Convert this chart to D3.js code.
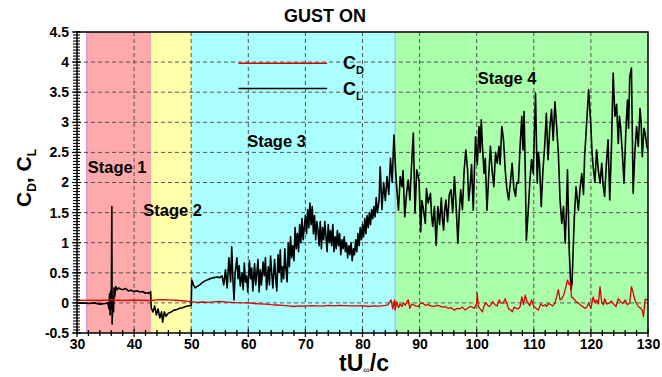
<!DOCTYPE html>
<html><head><meta charset="utf-8">
<script src="https://cdn.jsdelivr.net/npm/d3@7"></script>
<style>body{margin:0;background:#fff}svg{display:block;font-family:"Liberation Sans",Arial,sans-serif}</style>
</head><body><svg id="c" width="662" height="377"></svg>
<script>
// ---------- data ----------
const stages = [
  {name:"Stage 1", x0:31.7, x1:43,   color:"#ffaaaa", lx:31.9,  ly:2.26},
  {name:"Stage 2", x0:43,   x1:50,   color:"#ffffaa", lx:41.6,  ly:1.54},
  {name:"Stage 3", x0:50,   x1:85.7, color:"#aaffff", lx:59.8,  ly:2.69},
  {name:"Stage 4", x0:85.7, x1:130,  color:"#aaffaa", lx:100.2, ly:3.74}
];
const xTicks = [30,40,50,60,70,80,90,100,110,120,130];
const yTicks = [-0.5,0,0.5,1,1.5,2,2.5,3,3.5,4,4.5];
const yTickLabels = ["-0.5","0","0.5","1","1.5","2","2.5","3","3.5","4","4.5"];

const clStage12 = [[30,-0.01],[31,0.0],[32,-0.01],[33,0.0],[34,-0.02],[35,-0.01],[35.4,0.0],[35.6,-0.1],[35.7,0.15],[35.8,-0.2],[35.9,0.2],[36.0,-0.1],[36.1,1.6],[36.15,-0.35],[36.3,0.1],[36.4,-0.15],[36.5,0.25],[36.6,0.1],[36.8,0.27],[37.0,0.22],[37.3,0.25],[37.6,0.23],[38.0,0.22],[38.5,0.24],[39.0,0.2],[39.5,0.21],[40.0,0.19],[40.5,0.2],[41.0,0.18],[41.5,0.19],[42.0,0.16],[42.5,0.17],[42.8,0.15],[42.9,0.19],[43.0,-0.08],[43.3,-0.15],[43.6,-0.05],[43.9,-0.2],[44.2,-0.1],[44.5,-0.25],[44.8,-0.15],[45.0,-0.32],[45.3,-0.15],[45.6,-0.22],[46.0,-0.17],[46.5,-0.15],[47.0,-0.12],[47.5,-0.11],[48.0,-0.09],[48.5,-0.08],[49.0,-0.06],[49.5,-0.05],[50.0,-0.04]];
const clStage3 = [[50.1,0.38],[50.4,0.3],[50.7,0.25],[51.0,0.27],[51.5,0.3],[52.0,0.34],[52.5,0.37],[53.0,0.39],[53.5,0.41],[54.0,0.42],[54.5,0.43],[55.0,0.42],[55.4,0.45],[55.7,0.3],[56.0,0.55],[56.3,0.25],[56.6,0.75],[56.9,0.35],[57.1,0.93],[57.3,0.4],[57.5,0.05],[57.7,0.5],[58.0,0.75],[58.2,0.4],[58.4,0.62],[58.6,0.28],[58.9,0.5],[59.1,0.22],[59.3,0.66],[59.5,0.35],[59.7,0.45],[59.9,0.18],[60.2,0.7],[60.4,0.4],[60.6,0.58],[60.8,0.2],[61.1,0.65],[61.3,0.3],[61.5,0.5],[61.7,0.72],[61.9,0.18],[62.1,0.55],[62.3,0.3],[62.6,0.68],[62.8,0.45],[63.0,0.75],[63.2,0.22],[63.5,0.6],[63.7,0.3],[63.9,0.78],[64.1,0.5],[64.3,0.25],[64.6,0.72],[64.8,0.4],[65.0,0.2],[65.2,0.8],[65.4,0.5],[65.6,0.88],[65.8,0.35],[66.0,0.6],[66.2,0.4],[66.4,0.9],[66.6,0.55],[66.8,0.35],[67.0,1.0],[67.2,0.6],[67.4,1.1],[67.6,0.75],[67.8,0.95],[68.0,0.7],[68.2,1.25],[68.4,0.9],[68.6,1.15],[68.8,0.85],[69.0,1.3],[69.2,1.0],[69.4,1.4],[69.6,1.05],[69.8,1.25],[70.0,1.45],[70.2,1.15],[70.4,1.55],[70.6,1.25],[70.8,1.66],[71.0,1.3],[71.2,1.6],[71.4,1.15],[71.6,1.45],[71.8,1.05],[72.0,1.35],[72.2,1.2],[72.4,0.95],[72.6,1.35],[72.8,0.9],[73.0,1.25],[73.2,1.05],[73.4,1.35],[73.6,1.1],[73.8,0.85],[74.0,1.3],[74.2,1.0],[74.4,1.2],[74.6,0.95],[74.8,1.3],[75.0,0.85],[75.2,1.1],[75.4,0.9],[75.6,1.2],[75.8,0.95],[76.0,1.15],[76.2,0.8],[76.4,1.05],[76.6,0.9],[76.8,1.1],[77.0,0.85],[77.2,1.0],[77.4,0.75],[77.6,0.95],[77.8,0.8],[78.0,1.0],[78.2,0.7],[78.4,0.9],[78.6,0.8],[78.8,1.05],[79.0,0.85],[79.2,1.15],[79.4,0.95],[79.6,1.25],[79.8,1.05],[80.0,1.3],[80.2,1.1],[80.4,1.4],[80.6,1.15],[80.8,1.45],[81.0,1.25],[81.2,1.5],[81.4,1.3],[81.6,1.55],[81.8,1.4],[82.0,1.6],[82.2,1.43],[82.4,1.75],[82.6,1.5],[82.9,1.7],[83.1,2.26],[83.4,1.55],[83.7,2.0],[84.0,1.7],[84.3,2.1],[84.6,1.8],[84.9,2.4],[85.2,2.0],[85.5,2.79]];
const clStage4 = [[85.8,2.2],[86.0,1.9],[86.3,1.54],[86.6,2.1],[86.9,1.93],[87.1,2.2],[87.4,1.43],[87.7,1.8],[88.0,2.04],[88.3,1.71],[88.6,2.3],[88.9,2.82],[89.2,1.49],[89.5,2.21],[89.9,2.04],[90.2,1.18],[90.4,1.7],[90.6,1.6],[91.0,1.32],[91.2,1.9],[91.5,1.66],[91.9,1.82],[92.1,1.45],[92.3,1.27],[92.6,1.6],[92.9,0.96],[93.2,1.6],[93.5,1.3],[93.8,1.74],[94.0,1.4],[94.2,1.21],[94.4,1.55],[94.6,1.71],[94.9,1.35],[95.2,1.8],[95.5,1.88],[95.8,1.5],[96.1,2.1],[96.3,1.77],[96.5,1.4],[96.7,0.99],[97.0,1.6],[97.2,1.88],[97.5,1.55],[97.8,2.2],[98.1,2.54],[98.4,2.21],[98.6,1.7],[98.9,1.99],[99.1,2.3],[99.4,1.54],[99.6,2.2],[99.8,2.76],[100.1,2.3],[100.4,2.93],[100.6,2.5],[100.8,3.04],[101.0,2.6],[101.3,2.15],[101.5,2.4],[101.8,1.54],[102.1,2.1],[102.4,2.6],[102.7,2.2],[103.0,1.93],[103.3,2.5],[103.6,2.32],[103.9,2.6],[104.1,2.3],[104.4,2.93],[104.7,2.71],[105.0,2.2],[105.3,1.88],[105.6,1.71],[105.9,2.0],[106.2,2.32],[106.5,1.9],[106.8,1.77],[107.0,2.0],[107.3,1.99],[107.6,2.6],[107.9,3.1],[108.1,2.54],[108.3,3.18],[108.5,2.2],[108.7,1.04],[109.0,1.49],[109.3,2.0],[109.6,2.38],[109.9,2.15],[110.1,2.8],[110.3,3.48],[110.6,1.99],[110.8,2.5],[111.0,2.32],[111.3,1.6],[111.6,2.2],[111.9,2.6],[112.2,3.15],[112.5,2.38],[112.8,2.9],[113.1,3.21],[113.4,2.7],[113.7,3.34],[114.0,2.93],[114.3,2.49],[114.6,1.71],[114.9,1.32],[115.2,1.6],[115.5,0.99],[115.7,1.5],[115.9,2.21],[116.2,0.88],[116.5,0.22],[116.7,0.33],[116.9,0.9],[117.1,1.43],[117.4,1.93],[117.8,1.54],[118.1,1.9],[118.4,2.15],[118.7,1.8],[118.9,2.43],[119.2,2.9],[119.6,3.54],[120.0,2.93],[120.2,2.5],[120.4,2.26],[120.7,2.0],[121.0,2.54],[121.3,2.2],[121.6,1.99],[121.9,2.32],[122.1,2.0],[122.4,1.77],[122.7,2.3],[123.0,2.71],[123.3,1.71],[123.6,2.6],[123.9,3.82],[124.2,3.1],[124.5,3.3],[124.8,2.65],[125.0,3.1],[125.2,2.93],[125.5,2.5],[125.8,1.99],[126.1,2.8],[126.4,3.37],[126.6,2.9],[126.8,3.76],[127.1,3.9],[127.4,1.82],[127.7,2.5],[128.0,2.93],[128.3,2.6],[128.6,3.23],[128.8,3.0],[129.0,2.43],[129.3,2.9],[129.5,2.82],[129.8,2.6],[130.0,2.54]];

const cdStage123 = [[30,0.04],[32,0.045],[34,0.04],[36,0.05],[38,0.04],[40,0.045],[43,0.04],[44,0.05],[45,0.055],[46,0.05],[48,0.04],[50,0.02],[51,0.01],[52,0.015],[53,0.01],[55,0.025],[56,0.015],[57,0.01],[58,0.005],[60,0.0],[61,-0.01],[62,-0.015],[63,-0.02],[64,-0.03],[65,-0.035],[66,-0.04],[67,-0.05],[68,-0.06],[69,-0.05],[70,-0.055],[71,-0.045],[72,-0.05],[73,-0.055],[74,-0.04],[75,-0.05],[76,-0.04],[77,-0.045],[78,-0.05],[79,-0.05],[80,-0.045],[81,-0.06],[82,-0.05],[83,-0.055],[84,-0.04],[84.5,-0.03],[85.0,0.05],[85.3,-0.1],[85.6,0.05]];
const cdStage4 = [[85.7,-0.12],[86.0,0.02],[86.3,-0.08],[86.6,-0.02],[86.9,-0.06],[87.2,0.0],[87.5,-0.04],[87.8,0.02],[88.0,0.05],[88.3,-0.09],[88.6,-0.02],[88.9,-0.03],[89.3,-0.05],[89.8,-0.06],[90.1,-0.01],[90.5,0.0],[91.0,-0.04],[91.5,-0.03],[92.0,-0.05],[92.5,-0.06],[93.0,-0.04],[93.5,-0.05],[94.0,-0.07],[94.5,-0.06],[95.0,-0.09],[95.5,-0.08],[96.1,-0.12],[96.6,-0.09],[97.0,-0.1],[97.5,-0.07],[98.0,-0.12],[98.5,-0.08],[99.0,-0.06],[99.6,-0.09],[100.0,0.0],[100.1,0.16],[100.3,-0.06],[100.6,-0.1],[101.0,-0.15],[101.3,-0.05],[101.6,0.0],[102.0,-0.05],[102.2,-0.06],[102.6,-0.02],[102.8,0.02],[103.2,-0.03],[103.6,-0.05],[103.9,0.05],[104.3,0.0],[104.6,-0.01],[105.0,0.07],[105.3,-0.02],[105.6,-0.1],[106.0,-0.12],[106.2,-0.15],[106.6,-0.07],[106.9,-0.09],[107.3,-0.1],[107.6,-0.06],[107.9,0.1],[108.2,-0.03],[108.5,0.13],[108.8,0.03],[109.0,0.0],[109.3,-0.05],[109.6,0.05],[110.0,-0.06],[110.4,-0.09],[110.8,-0.12],[111.2,-0.02],[111.6,-0.05],[112.0,-0.03],[112.2,-0.06],[112.6,-0.01],[113.0,-0.03],[113.3,-0.05],[113.7,0.0],[114.0,0.1],[114.3,0.22],[114.6,0.05],[114.9,0.07],[115.2,0.12],[115.5,0.22],[115.9,0.38],[116.2,0.3],[116.4,0.33],[116.6,0.1],[117.0,0.07],[117.4,0.02],[117.8,0.0],[118.2,-0.04],[118.6,-0.06],[118.9,-0.09],[119.3,-0.07],[119.6,0.0],[120.0,-0.09],[120.4,0.1],[120.7,0.0],[121.0,0.05],[121.3,-0.02],[121.6,0.27],[121.9,0.0],[122.2,-0.03],[122.4,0.07],[122.8,-0.02],[123.2,0.0],[123.6,0.03],[124.0,-0.02],[124.4,-0.06],[124.8,0.07],[125.2,0.02],[125.6,-0.01],[126.0,0.05],[126.4,-0.03],[126.8,0.0],[127.1,0.27],[127.4,0.17],[127.7,0.05],[128.0,-0.01],[128.3,-0.06],[128.6,-0.08],[129.0,-0.12],[129.2,-0.23],[129.5,0.06],[129.8,0.05],[130.0,0.08]];

// ---------- layout ----------
const svg = d3.select("#c");
const L=77, R=648, T=32, B=333;
const x = d3.scaleLinear().domain([30,130]).range([L,R]);
const y = d3.scaleLinear().domain([-0.5,4.5]).range([B,T]);

svg.append("defs").append("clipPath").attr("id","clip")
  .append("rect").attr("x",L).attr("y",T).attr("width",R-L).attr("height",B-T);

// stage backgrounds
svg.append("g").selectAll("rect").data(stages).join("rect")
  .attr("x",d=>x(d.x0)).attr("y",T).attr("width",d=>x(d.x1)-x(d.x0)).attr("height",B-T)
  .attr("fill",d=>d.color);
svg.append("line").attr("x1",x(stages[0].x0)).attr("x2",x(stages[0].x0)).attr("y1",T).attr("y2",B)
  .attr("stroke","#c070e0").attr("stroke-width",0.8);
svg.append("line").attr("x1",x(stages[3].x0)).attr("x2",x(stages[3].x0)).attr("y1",T).attr("y2",B)
  .attr("stroke","#8080ff").attr("stroke-width",0.6);

// grid
const grid = svg.append("g").attr("stroke","#444").attr("stroke-width",0.9).attr("stroke-dasharray","4,3");
grid.selectAll(".gx").data(xTicks.slice(1,-1)).join("line")
  .attr("x1",d=>x(d)).attr("x2",d=>x(d)).attr("y1",T).attr("y2",B);
grid.selectAll(".gy").data(yTicks.slice(1,-1)).join("line")
  .attr("x1",L).attr("x2",R).attr("y1",d=>y(d)).attr("y2",d=>y(d));

// stage labels
svg.append("g").selectAll("text").data(stages).join("text")
  .attr("x",d=>x(d.lx)).attr("y",d=>y(d.ly)).attr("font-size",16.5).attr("font-weight","bold")
  .attr("dominant-baseline","central").text(d=>d.name);

// lines
const line = d3.line().x(d=>x(d[0])).y(d=>y(d[1]));
const gl = svg.append("g").attr("clip-path","url(#clip)");
const cl = clStage12.concat(clStage3, clStage4);
const cd = cdStage123.concat(cdStage4);
gl.append("path").datum(cl).attr("d",line).attr("fill","none").attr("stroke","#000").attr("stroke-width",1.6).attr("stroke-linejoin","round");
gl.append("path").datum(cd).attr("d",line).attr("fill","none").attr("stroke","#e00000").attr("stroke-width",1.3).attr("stroke-linejoin","round");

// frame
svg.append("rect").attr("x",L).attr("y",T).attr("width",R-L).attr("height",B-T)
  .attr("fill","none").attr("stroke","#000").attr("stroke-width",1.5);

// axes
const xAxis = d3.axisBottom(x).tickValues(xTicks).tickSize(0).tickFormat(d3.format("d"));
const gx = svg.append("g").attr("transform",`translate(0,${B})`).call(xAxis);
gx.select(".domain").remove();
gx.selectAll("text").attr("font-size",14).attr("font-weight","bold").attr("font-family","Liberation Sans, Arial, sans-serif").attr("fill","#000").attr("dy","0.9em");
const gxt = svg.append("g").attr("stroke","#000").attr("stroke-width",1.3);
gxt.selectAll(".mj").data(xTicks).join("line").attr("x1",d=>x(d)).attr("x2",d=>x(d)).attr("y1",B-4).attr("y2",B+4);
gxt.selectAll(".mn").data(d3.range(30,130.01,2).filter(v=>v%10!==0)).join("line").attr("x1",d=>x(d)).attr("x2",d=>x(d)).attr("y1",B-3).attr("y2",B+3);

const yAxis = d3.axisLeft(y).tickValues(yTicks).tickSize(0).tickFormat((d,i)=>yTickLabels[i]);
const gy = svg.append("g").attr("transform",`translate(${L},0)`).call(yAxis);
gy.select(".domain").remove();
gy.selectAll("text").attr("font-size",14).attr("font-weight","bold").attr("font-family","Liberation Sans, Arial, sans-serif").attr("fill","#000").attr("x",-8);
const gyt = svg.append("g").attr("stroke","#000").attr("stroke-width",1.1);
gyt.selectAll(".mj").data(yTicks).join("line").attr("x1",L-5).attr("x2",L+4).attr("y1",d=>y(d)).attr("y2",d=>y(d));
gyt.selectAll(".mn").data(d3.range(0,101).map(i=>-0.5+i*0.05)).join("line").attr("x1",L-4).attr("x2",L+3).attr("y1",d=>y(d)).attr("y2",d=>y(d));

// title
svg.append("text").attr("x",325).attr("y",22).attr("text-anchor","middle").attr("font-size",18).attr("font-weight","bold").text("GUST ON");

// x label
const xl = svg.append("text").attr("x",364).attr("y",371).attr("text-anchor","middle").attr("font-size",23).attr("font-weight","bold");
xl.append("tspan").text("tU");
xl.append("tspan").attr("font-size",9).attr("dy",2).attr("font-weight","normal").text("∞");
xl.append("tspan").attr("dy",-2).text("/c");

// y label
const yl = svg.append("text").attr("transform","translate(31,178) rotate(-90)").attr("text-anchor","middle").attr("font-size",21).attr("font-weight","bold");
yl.append("tspan").text("C");
yl.append("tspan").attr("font-size",12).attr("dy",5).text("D");
yl.append("tspan").attr("dy",-5).text(", C");
yl.append("tspan").attr("font-size",12).attr("dy",5).text("L");

// legend
const legend = [{label:"D", color:"#e00000", v:3.98},{label:"L", color:"#000", v:3.56}];
const lg = svg.append("g");
legend.forEach(d=>{
  lg.append("line").attr("x1",x(58.3)).attr("x2",x(73.8)).attr("y1",y(d.v)).attr("y2",y(d.v)).attr("stroke",d.color).attr("stroke-width",1.5);
  const t = lg.append("text").attr("x",x(76.6)).attr("y",y(d.v)+6).attr("font-size",18).attr("font-weight","bold");
  t.append("tspan").text("C");
  t.append("tspan").attr("font-size",11).attr("dy",5).text(d.label);
});
</script></body></html>
